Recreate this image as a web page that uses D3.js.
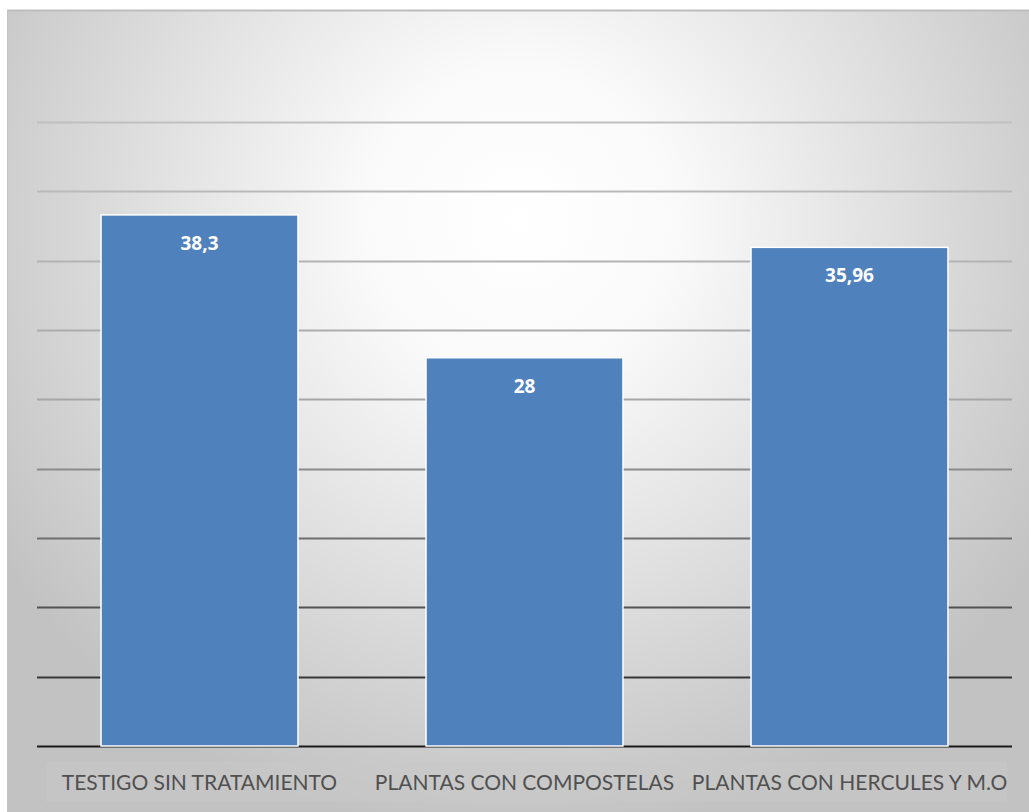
<!DOCTYPE html>
<meta charset="utf-8">
<head>
<style>
    body {margin: 0; background: #ffffff;}
    .cat {font-family: Lato, "Open Sans", sans-serif; font-size: 21px; fill: #505050;}
    .lbl {font-family: "Open Sans", sans-serif; font-size: 19px; font-weight: bold; fill: #ffffff;}
</style>
</head>
<body>
<div class="chart"></div>
</body>
<script src="https://d3js.org/d3.v7.min.js"></script>
<script>
// data
var categories = ["TESTIGO SIN TRATAMIENTO", "PLANTAS CON COMPOSTELAS", "PLANTAS CON HERCULES Y M.O"];
var values = [38.3, 28, 35.96];
var value_labels = ["38,3", "28", "35,96"];
var y_ticks = [0, 5, 10, 15, 20, 25, 30, 35, 40, 45];

var W = 1029, H = 812;
var plot = {left: 37, right: 1012, top: 122, bottom: 746};

var svg = d3.select(".chart").append("svg")
    .attr("width", W)
    .attr("height", H);

var defs = svg.append("defs");

// radial background like the office chart style
var bg = defs.append("radialGradient")
    .attr("id", "bg")
    .attr("gradientUnits", "userSpaceOnUse")
    .attr("cx", 520).attr("cy", 220).attr("r", 620);
bg.append("stop").attr("offset", "0%").attr("stop-color", "#ffffff");
bg.append("stop").attr("offset", "25%").attr("stop-color", "#fafafa");
bg.append("stop").attr("offset", "100%").attr("stop-color", "#c2c2c2");

// gridlines get darker toward the bottom
var gg = defs.append("linearGradient")
    .attr("id", "grid")
    .attr("gradientUnits", "userSpaceOnUse")
    .attr("x1", 0).attr("y1", plot.top).attr("x2", 0).attr("y2", plot.bottom);
gg.append("stop").attr("offset", "0%").attr("stop-color", "#c0c0c0");
gg.append("stop").attr("offset", "45%").attr("stop-color", "#a6a6a6");
gg.append("stop").attr("offset", "100%").attr("stop-color", "#1a1a1a");

svg.append("rect")
    .attr("x", 7).attr("y", 10)
    .attr("width", W - 7).attr("height", H - 10)
    .attr("fill", "url(#bg)");
svg.append("line")
    .attr("x1", 7).attr("x2", W).attr("y1", 10.5).attr("y2", 10.5)
    .attr("stroke", "#bdbdbd").attr("stroke-width", 2);
svg.append("line")
    .attr("x1", 7.5).attr("x2", 7.5).attr("y1", 10).attr("y2", H)
    .attr("stroke", "#c4c4c4").attr("stroke-width", 1);

var x = d3.scaleBand()
    .domain(categories)
    .range([plot.left, plot.right])
    .paddingInner(0.394)
    .paddingOuter(0.197);

var y = d3.scaleLinear()
    .domain([0, 45])
    .range([plot.bottom, plot.top]);

// gridlines
svg.append("g").selectAll("line")
    .data(y_ticks)
    .enter().append("line")
    .attr("x1", plot.left).attr("x2", plot.right)
    .attr("y1", function (d) { return Math.round(y(d)) + 0.5; })
    .attr("y2", function (d) { return Math.round(y(d)) + 0.5 + 0.01; })
    .attr("stroke", "url(#grid)")
    .attr("stroke-width", 2);

// category strip
svg.append("rect")
    .attr("x", 46).attr("y", 762)
    .attr("width", 961).attr("height", 40)
    .attr("fill", "#c8c8c8").attr("opacity", 0.55);

var data = categories.map(function (c, i) {
    return {cat: c, value: values[i], label: value_labels[i]};
});

svg.selectAll(".bar").data(data).enter().append("rect")
    .attr("class", "bar")
    .attr("x", function (d) { return x(d.cat); })
    .attr("width", x.bandwidth())
    .attr("y", function (d) { return y(d.value); })
    .attr("height", function (d) { return plot.bottom - y(d.value); })
    .style("fill", "#4f81bd")
    .style("stroke", "#ffffff")
    .style("stroke-width", 1.5);

svg.selectAll(".lbl").data(data).enter().append("text")
    .attr("class", "lbl")
    .attr("x", function (d) { return x(d.cat) + x.bandwidth() / 2; })
    .attr("y", function (d) { return y(d.value) + 35; })
    .attr("text-anchor", "middle")
    .text(function (d) { return d.label; });

svg.selectAll(".cat").data(categories).enter().append("text")
    .attr("class", "cat")
    .attr("x", function (d) { return x(d) + x.bandwidth() / 2; })
    .attr("y", 790)
    .attr("text-anchor", "middle")
    .text(function (d) { return d; });
</script>
</body>
